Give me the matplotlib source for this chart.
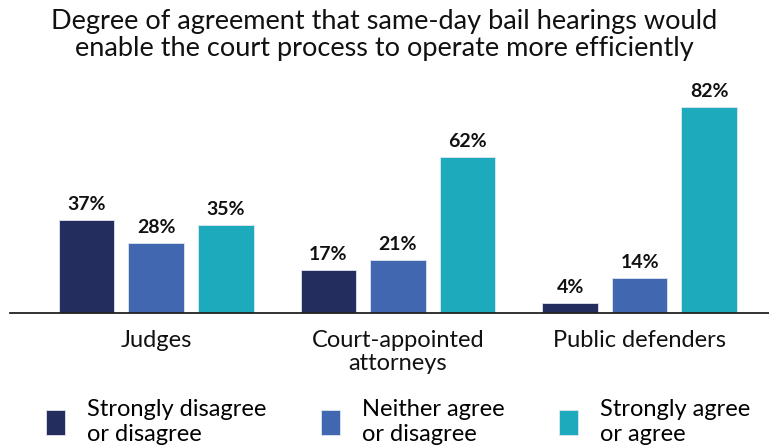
import matplotlib
matplotlib.use('Agg')
import numpy as np
from matplotlib import pyplot as plt

# data
groups = ['Judges', 'Court-appointed\nattorneys', 'Public defenders']
series = ['Strongly disagree\nor disagree', 'Neither agree\nor disagree', 'Strongly agree\nor agree']
disagree = [37, 17, 4]
neither = [28, 21, 14]
agree = [35, 62, 82]
colors = ['#232E5E', '#4167B1', '#1EAABD']

plt.rcParams['font.family'] = ['Lato', 'DejaVu Sans']

fig = plt.figure(figsize=(7.69, 4.48), dpi=100)
ax = fig.add_axes([0.013, 0.3013, 0.987, 0.505])

x = np.arange(len(groups))
w = 0.23
offs = 0.288
for i, vals in enumerate([disagree, neither, agree]):
    bars = ax.bar(x + (i - 1) * offs, vals, width=w, color=colors[i],
                  edgecolor='#dfe6ee', linewidth=0.6, label=series[i], zorder=2)
    ax.bar_label(bars, labels=['%d%%' % v for v in vals], padding=5,
                 fontsize=14, fontweight='bold', color='#111111')

ax.set_xlim(-0.605, 2.535)
ax.set_ylim(0, 90)
ax.set_yticks([])
for s in ['top', 'right', 'left']:
    ax.spines[s].set_visible(False)
ax.spines['bottom'].set_linewidth(1.3)
ax.spines['bottom'].set_color('#222222')
ax.set_xticks(x)
ax.set_xticklabels(groups, fontsize=17, color='#111111', linespacing=1.15)
ax.tick_params(axis='x', length=0, pad=12)

fig.suptitle('Degree of agreement that same-day bail hearings would\n'
             'enable the court process to operate more efficiently',
             fontsize=19.5, y=0.98, color='#111111', linespacing=1.12)

fig.legend(loc='lower left', bbox_to_anchor=(0.032, -0.04), ncol=3, frameon=False,
           fontsize=17, handlelength=0.8, handleheight=1.25, handletextpad=0.95,
           columnspacing=2.3, labelspacing=0.2)

plt.savefig('out.png', dpi=100)
